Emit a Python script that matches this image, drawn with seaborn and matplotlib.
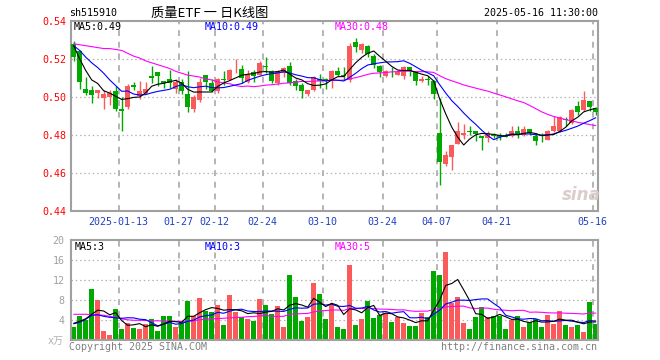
import numpy as np
import pandas as pd
import matplotlib
matplotlib.use("Agg")
import matplotlib.pyplot as plt
import seaborn as sns

# ---------------- data ----------------
opens = [0.528, 0.524, 0.5044, 0.5035, 0.502, 0.4997, 0.500, 0.503, 0.4937, 0.4948,
         0.5065, 0.5007, 0.5021, 0.5108, 0.513, 0.5086, 0.5095, 0.504, 0.5077, 0.5018,
         0.4937, 0.4986, 0.5118, 0.5074, 0.503, 0.5095, 0.5091, 0.5145, 0.5149, 0.5077,
         0.513, 0.5118, 0.5163, 0.5135, 0.5074, 0.5126, 0.5165, 0.5086, 0.5065, 0.5018,
         0.5035, 0.5095, 0.5092, 0.5082, 0.5138, 0.5113, 0.5091, 0.529, 0.525, 0.527,
         0.5217, 0.5165, 0.5109, 0.5148, 0.5118, 0.5109, 0.5156, 0.513, 0.5082, 0.5095,
         0.5086, 0.481, 0.4645, 0.4683, 0.4753, 0.4802, 0.4822, 0.4823, 0.4793, 0.4784,
         0.4802, 0.480, 0.4795, 0.4793, 0.4823, 0.4802, 0.4833, 0.4793, 0.4768, 0.4776,
         0.4823, 0.4823, 0.4886, 0.4863, 0.4954, 0.4933, 0.4977, 0.4942]
closes = [0.521, 0.508, 0.5021, 0.501, 0.5035, 0.5018, 0.502, 0.4935, 0.4928, 0.5056,
          0.5051, 0.503, 0.5044, 0.5102, 0.511, 0.5074, 0.5074, 0.5077, 0.503, 0.4948,
          0.500, 0.5077, 0.5077, 0.503, 0.5095, 0.509, 0.514, 0.5148, 0.510, 0.512,
          0.511, 0.518, 0.516, 0.5082, 0.5135, 0.5153, 0.5074, 0.5056, 0.5033, 0.5035,
          0.5105, 0.5082, 0.509, 0.5138, 0.5118, 0.511, 0.527, 0.5265, 0.528, 0.5226,
          0.517, 0.513, 0.5135, 0.5145, 0.513, 0.5156, 0.5135, 0.5086, 0.5095, 0.5088,
          0.5018, 0.466, 0.4697, 0.4746, 0.4823, 0.4811, 0.4818, 0.4806, 0.4785, 0.4811,
          0.4795, 0.479, 0.4792, 0.4823, 0.4806, 0.4833, 0.4811, 0.4767, 0.4766, 0.4823,
          0.4845, 0.4893, 0.4877, 0.4933, 0.4919, 0.4986, 0.4945, 0.492]
highs = [0.5295, 0.525, 0.5105, 0.5056, 0.5035, 0.5035, 0.5035, 0.506, 0.500, 0.507,
         0.508, 0.5082, 0.508, 0.5161, 0.513, 0.5086, 0.5144, 0.5095, 0.5095, 0.5138,
         0.501, 0.510, 0.5118, 0.5095, 0.510, 0.5135, 0.5147, 0.520, 0.517, 0.514,
         0.514, 0.519, 0.5211, 0.5144, 0.5144, 0.516, 0.5186, 0.5095, 0.5075, 0.5035,
         0.511, 0.512, 0.510, 0.5144, 0.5156, 0.5156, 0.5284, 0.531, 0.5285, 0.5275,
         0.5225, 0.517, 0.5144, 0.5156, 0.5144, 0.5165, 0.5156, 0.5135, 0.5112, 0.5112,
         0.5091, 0.4995, 0.4718, 0.4746, 0.4867, 0.486, 0.4845, 0.4823, 0.4793, 0.4823,
         0.4811, 0.4811, 0.4811, 0.4845, 0.4845, 0.4845, 0.4833, 0.4811, 0.4811, 0.4828,
         0.490, 0.4898, 0.4895, 0.4937, 0.4977, 0.503, 0.4977, 0.4945]
lows = [0.519, 0.504, 0.501, 0.497, 0.4995, 0.4937, 0.496, 0.4924, 0.482, 0.4937,
        0.5035, 0.499, 0.5015, 0.5074, 0.5056, 0.5045, 0.5048, 0.502, 0.5015, 0.4919,
        0.4919, 0.4976, 0.504, 0.5025, 0.502, 0.5065, 0.5091, 0.5126, 0.5074, 0.5074,
        0.508, 0.5115, 0.5126, 0.5074, 0.5065, 0.5105, 0.5063, 0.5035, 0.4995, 0.5005,
        0.5033, 0.505, 0.504, 0.505, 0.511, 0.509, 0.508, 0.5235, 0.523, 0.521,
        0.5155, 0.5105, 0.5105, 0.5105, 0.5115, 0.5095, 0.5109, 0.5065, 0.5077, 0.5065,
        0.499, 0.4535, 0.4635, 0.4618, 0.4753, 0.4779, 0.480, 0.4767, 0.4719, 0.4765,
        0.4784, 0.4775, 0.4788, 0.4788, 0.4784, 0.4797, 0.4802, 0.4749, 0.4762, 0.4772,
        0.4818, 0.4818, 0.4845, 0.4858, 0.4907, 0.4928, 0.4928, 0.4903]
volumes = [2.7, 4.9, 4.1, 10.3, 8.1, 1.9, 1.1, 6.3, 2.3, 3.4,
           2.4, 2.3, 3.2, 4.2, 1.9, 4.9, 4.9, 2.7, 3.6, 7.9,
           4.9, 8.5, 5.8, 5.6, 7.1, 3.1, 9.1, 5.6, 4.6, 4.3,
           3.9, 8.3, 7.1, 5.3, 6.9, 2.7, 13.1, 8.7, 3.9, 4.7,
           11.5, 9.3, 4.3, 7.2, 2.7, 2.3, 15.1, 3.1, 4.3, 7.9,
           4.5, 5.1, 5.4, 3.7, 4.7, 3.5, 2.9, 2.9, 5.5, 4.7,
           13.9, 13.1, 17.7, 7.4, 8.7, 3.5, 2.3, 4.7, 6.7, 4.7,
           4.9, 4.9, 2.3, 4.1, 4.9, 2.7, 3.7, 4.2, 2.7, 5.1,
           3.3, 5.9, 3.1, 2.7, 3.1, 1.7, 7.7, 3.2]

# moving-average values before a full window is available
ma5_head = [0.527, 0.520, 0.514, 0.509]
ma10_head = [0.527, 0.5245, 0.521, 0.518, 0.5155, 0.5125, 0.509, 0.506, 0.503]
ma30_head = [0.528, 0.5275, 0.527, 0.5265, 0.526, 0.5255, 0.5255, 0.525, 0.5245, 0.523,
             0.5215, 0.5205, 0.519, 0.518, 0.517, 0.516, 0.515, 0.5135, 0.5125, 0.5115,
             0.511, 0.5105, 0.5095, 0.509, 0.508, 0.5074, 0.507, 0.506, 0.5055]
vol_ma5_head = [3.4, 3.8, 4.3, 5.2]
vol_ma10_head = [3.3, 3.6, 4.2, 5.0, 5.1, 4.8, 4.6, 4.5, 4.4]
vol_ma30_head = [5.2, 5.2, 5.2, 5.15, 5.1, 5.0, 4.8, 4.6, 4.3, 4.1,
                 4.0, 4.0, 3.95, 3.9, 3.9, 3.85, 3.85, 3.8, 3.8, 3.8,
                 3.9, 4.1, 4.2, 4.3, 4.35, 4.4, 4.5, 4.55, 4.6]

tick_index = [8, 18, 24, 32, 42, 52, 61, 71, 87]
tick_labels = ["2025-01-13", "01-27", "02-12", "02-24", "03-10", "03-24", "04-07", "04-21", "05-16"]
price_ticks = [0.44, 0.46, 0.48, 0.50, 0.52, 0.54]
vol_ticks = [4, 8, 12, 16, 20]
price_legend = ["MA5:0.49", "MA10:0.49", "MA30:0.48"]
vol_legend = ["MA5:3", "MA10:3", "MA30:5"]

# ---------------- derived ----------------
n = len(closes)
x = np.arange(n)
o = np.array(opens); c = np.array(closes); h = np.array(highs); l = np.array(lows)
v = np.array(volumes)


def moving_avg(vals, w, head):
    s = pd.Series(vals, dtype=float).rolling(w).mean()
    s.iloc[:w - 1] = head
    return s.values


df = pd.DataFrame({
    "idx": x,
    "ma5": moving_avg(closes, 5, ma5_head),
    "ma10": moving_avg(closes, 10, ma10_head),
    "ma30": moving_avg(closes, 30, ma30_head),
    "vma5": moving_avg(volumes, 5, vol_ma5_head),
    "vma10": moving_avg(volumes, 10, vol_ma10_head),
    "vma30": moving_avg(volumes, 30, vol_ma30_head),
})

RED = "#fa5a5a"
GREEN = "#00a800"
GRID = "#b4b4b4"
FRAME = "#a0a0a0"
MONO = "DejaVu Sans Mono"
FS = 7.2
LW = 0.8

sns.set_style("white")
plt.rcParams["font.family"] = [MONO, "Noto Sans CJK SC"]

W, H = 660, 360
fig = plt.figure(figsize=(W / 100, H / 100), dpi=100)
fig.patch.set_facecolor("white")


def fx(px):
    return px / W


def fy(py):
    return 1 - py / H


ax = fig.add_axes([fx(70.7), fy(211), (597.5 - 70.7) / W, (211 - 21) / H])
axv = fig.add_axes([fx(70.7), fy(340.3), (597.5 - 70.7) / W, (340.3 - 240.3) / H])

colors = np.where(c >= o, RED, GREEN)

# ---------------- price panel ----------------
for yv in [0.46, 0.48, 0.50, 0.52]:
    ax.axhline(yv, color=GRID, lw=0.9, ls=(0, (1.2, 2.2)), zorder=0)
for ti in tick_index:
    ax.axvline(ti - 0.5, color=GRID, lw=1.4, ls=(0, (3, 3)), zorder=0)

ax.vlines(x, l, h, colors=colors, lw=1.0, zorder=2)
body_bottom = np.minimum(o, c)
body_h = np.maximum(np.abs(c - o), 0.0004)
ax.bar(x, body_h, bottom=body_bottom, width=0.8, color=colors, linewidth=0, zorder=3)

sns.lineplot(data=df, x="idx", y="ma30", ax=ax, color="#ff00ff", lw=LW, zorder=4)
sns.lineplot(data=df, x="idx", y="ma10", ax=ax, color="#0000ff", lw=LW, zorder=5)
sns.lineplot(data=df, x="idx", y="ma5", ax=ax, color="black", lw=LW, zorder=6)

ax.set_xlim(-0.5, 87.3)
ax.set_ylim(0.44, 0.54)
ax.set_yticks(price_ticks)
ax.set_yticklabels([f"{t:.2f}" for t in price_ticks], color="red", fontsize=FS, family=MONO)
ax.set_xticks([t - 0.5 for t in tick_index])
ax.set_xticklabels(tick_labels, color="#2040c0", fontsize=FS, family=MONO)
ax.tick_params(axis="both", length=0)
ax.tick_params(axis="y", pad=3.3)
ax.tick_params(axis="x", pad=4.5)
ax.set_xlabel("")
ax.set_ylabel("")
for sp in ax.spines.values():
    sp.set_color(FRAME)
    sp.set_linewidth(1.5)

# ---------------- volume panel ----------------
for yv in [4, 8, 12, 16]:
    axv.axhline(yv, color=GRID, lw=0.9, ls=(0, (1.2, 2.2)), zorder=0)
for ti in tick_index:
    axv.axvline(ti - 0.5, color=GRID, lw=1.4, ls=(0, (3, 3)), zorder=0)

axv.bar(x, v, width=0.85, color=colors, linewidth=0, zorder=2)
sns.lineplot(data=df, x="idx", y="vma30", ax=axv, color="#ff00ff", lw=LW, zorder=4)
sns.lineplot(data=df, x="idx", y="vma10", ax=axv, color="#0000ff", lw=LW, zorder=5)
sns.lineplot(data=df, x="idx", y="vma5", ax=axv, color="black", lw=LW, zorder=6)

axv.set_xlim(-0.5, 87.3)
axv.set_ylim(0, 20)
axv.set_yticks(vol_ticks)
axv.set_yticklabels([str(t) for t in vol_ticks], color="#a0a0a0", fontsize=FS, family=MONO)
axv.set_xticks([])
axv.tick_params(axis="both", length=0)
axv.tick_params(axis="y", pad=4.5)
axv.set_xlabel("")
axv.set_ylabel("")
for sp in axv.spines.values():
    sp.set_color(FRAME)
    sp.set_linewidth(1.5)

# ---------------- texts ----------------
fig.text(fx(69), fy(13), "sh515910", ha="left", va="center", fontsize=FS, family=MONO, color="black")
fig.text(fx(210), fy(13), "质量ETF 一 日K线图", ha="center", va="center", fontsize=9.5,
         family=["Noto Sans CJK SC", "DejaVu Sans"], color="black")
fig.text(fx(597.5), fy(13), "2025-05-16 11:30:00", ha="right", va="center", fontsize=FS,
         family=MONO, color="black")

for label, px, col in zip(price_legend, [74, 205, 335], ["black", "#0000ff", "#ff00ff"]):
    fig.text(fx(px), fy(27), label, ha="left", va="center", fontsize=FS, family=MONO, color=col)
for label, px, col in zip(vol_legend, [75, 205, 335], ["black", "#0000ff", "#ff00ff"]):
    fig.text(fx(px), fy(246.5), label, ha="left", va="center", fontsize=FS, family=MONO, color=col)

fig.text(fx(48), fy(341), "x万", ha="left", va="center", fontsize=FS,
         family=[MONO, "Noto Sans CJK SC"], color="#b0b0b0")
fig.text(fx(69), fy(346.5), "Copyright 2025 SINA.COM", ha="left", va="center", fontsize=FS,
         family=MONO, color="#808080")
fig.text(fx(597), fy(346.5), "http://finance.sina.com.cn", ha="right", va="center", fontsize=FS,
         family=MONO, color="#808080")
fig.text(fx(581), fy(195), "sina", ha="center", va="center", fontsize=12, style="italic",
         weight="bold", family="DejaVu Sans", color="#dccccc")

fig.savefig("out.png", dpi=100, facecolor="white")
